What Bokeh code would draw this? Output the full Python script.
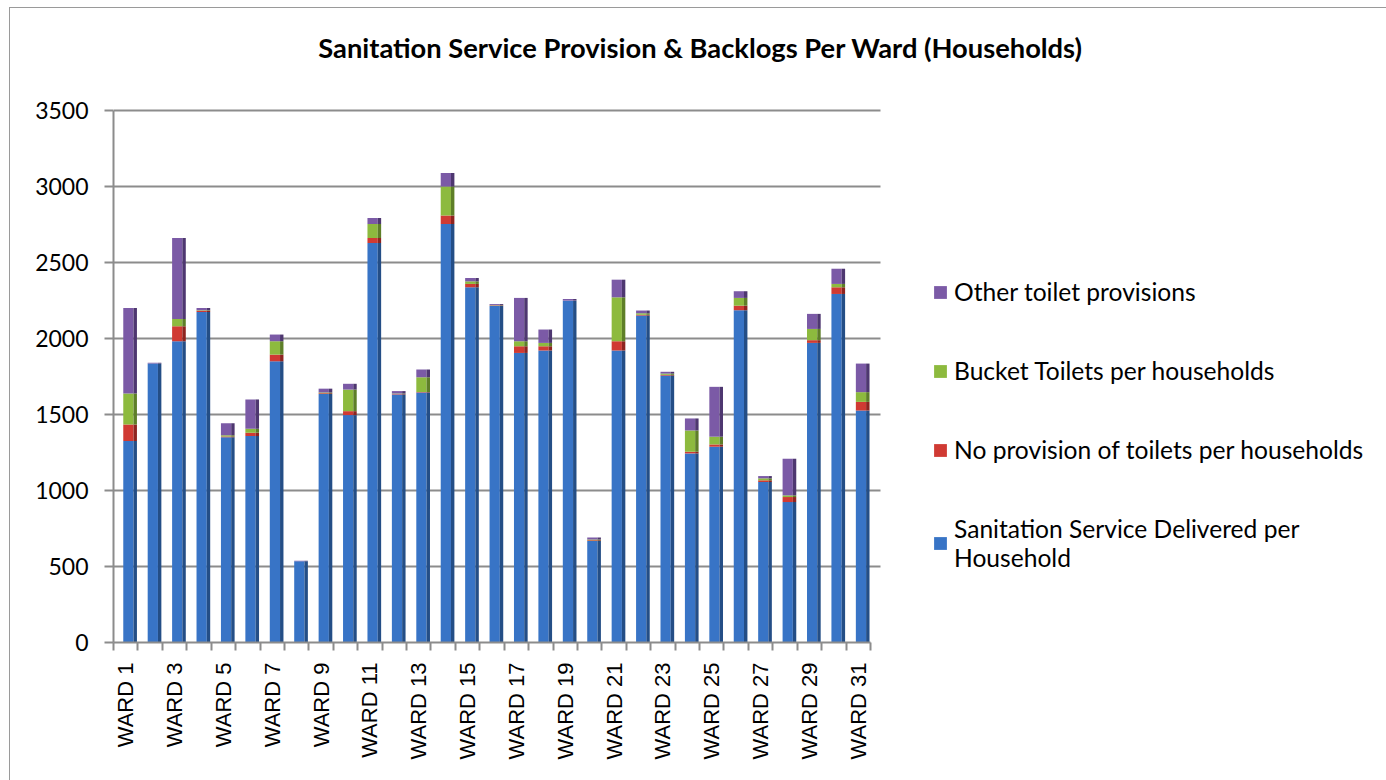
from bokeh.plotting import figure
from bokeh.models import ColumnDataSource, FixedTicker, Legend, LegendItem, Label
from bokeh.transform import dodge
from bokeh.embed import file_html
from bokeh.resources import INLINE

wards = [f"WARD {i}" for i in range(1, 32)]
delivered = [1325, 1835, 1982, 2175, 1350, 1358, 1850, 535, 1635, 1496, 2628,
             1632, 1645, 2753, 2337, 2216, 1905, 1921, 2249, 668, 1921, 2151,
             1756, 1244, 1288, 2186, 1056, 924, 1971, 2293, 1526]
no_provision = [109, 0, 99, 8, 5, 22, 44, 0, 5, 26, 33, 3, 3, 57, 22, 3, 44,
                28, 0, 5, 61, 5, 5, 11, 15, 30, 11, 33, 18, 44, 57]
bucket = [204, 0, 48, 3, 8, 26, 88, 0, 5, 142, 92, 3, 97, 190, 17, 2, 33, 22,
          0, 5, 289, 10, 8, 140, 51, 51, 13, 11, 74, 22, 64]
other = [563, 5, 532, 15, 80, 193, 44, 3, 25, 38, 39, 16, 51, 88, 22, 6, 285,
         88, 11, 12, 116, 18, 12, 79, 328, 44, 15, 241, 99, 100, 188]
y_ticks = [0, 500, 1000, 1500, 2000, 2500, 3000, 3500]

series = ["delivered", "no_provision", "bucket", "other"]
series_names = ["Sanitation Service Delivered per\nHousehold",
                "No provision of toilets per households",
                "Bucket Toilets per households",
                "Other toilet provisions"]
title_text = "Sanitation Service Provision & Backlogs Per Ward (Households)"
front_colors = ["#3874C6", "#D03A33", "#8DBA3E", "#7B5AA6"]
side_colors = ["#244E86", "#8E2420", "#5E7F28", "#4E3770"]

n = len(wards)
pos = list(range(1, n + 1))
source = ColumnDataSource(dict(x=pos, delivered=delivered, no_provision=no_provision,
                               bucket=bucket, other=other))

# plot area: categories occupy 757 px, value axis 0..3500 occupies 532 px;
# the frame is extended to the right and top to hold the legend and title
unit_x = 757 / n
unit_y = 532 / y_ticks[-1]
x_end = 0.5 + (1386 - 113) / unit_x
y_end = 642 / unit_y

p = figure(width=1386, height=780, x_range=(0.5, x_end), y_range=(0, y_end),
           output_backend="svg", toolbar_location=None,
           min_border_left=113, min_border_right=0, min_border_top=0,
           min_border_bottom=138)
p.title.visible = False
p.outline_line_color = None
p.background_fill_color = None
p.border_fill_color = None
p.styles = {"box-shadow": "inset 9px 7px 0 0 white, inset 10px 8px 0 0 #9a9a9a"}

p.xgrid.grid_line_color = None
p.ygrid.grid_line_color = "#8c8c8c"
p.ygrid.grid_line_width = 2
g = p.ygrid[0]
if "cross_bounds" in g.properties():
    g.cross_bounds = (0.5, n + 0.9)

# y axis
p.yaxis.ticker = FixedTicker(ticks=y_ticks)
p.yaxis.bounds = (0, y_ticks[-1])
p.yaxis.minor_tick_line_color = None
p.yaxis.major_tick_out = 9
p.yaxis.major_tick_in = 0
p.yaxis.axis_line_color = "#8c8c8c"
p.yaxis.axis_line_width = 2
p.yaxis.major_tick_line_color = "#8c8c8c"
p.yaxis.major_tick_line_width = 2
p.yaxis.major_label_text_font = "Lato"
p.yaxis.major_label_text_font_size = "23px"
p.yaxis.major_label_text_color = "black"
p.yaxis.major_label_standoff = 16

# x axis
p.xaxis.ticker = FixedTicker(ticks=pos[::2], minor_ticks=[i + 0.5 for i in range(0, n + 1)])
p.xaxis.bounds = (0.5, n + 0.5)
p.xaxis.major_label_overrides = {i: w for i, w in zip(pos, wards)}
p.xaxis.major_tick_out = 0
p.xaxis.major_tick_in = 0
p.xaxis.minor_tick_out = 8
p.xaxis.minor_tick_in = 0
p.xaxis.minor_tick_line_color = "#8c8c8c"
p.xaxis.minor_tick_line_width = 2
p.xaxis.axis_line_color = "#8c8c8c"
p.xaxis.axis_line_width = 2
p.xaxis.major_label_orientation = 3.14159265 / 2
p.xaxis.major_label_text_font = "Liberation Sans"
p.xaxis.major_label_text_font_size = "22px"
p.xaxis.major_label_text_color = "black"
p.xaxis.major_label_standoff = 12

front = p.vbar_stack(series, x=dodge("x", 0.11), width=0.42, source=source,
                     color=front_colors, line_width=0)
side = p.vbar_stack(series, x=dodge("x", 0.39), width=0.14, source=source,
                    color=side_colors, line_width=0)

items = [LegendItem(label=series_names[i], renderers=[front[i]]) for i in range(3, -1, -1)]
legend = Legend(items=items, location=(819, 70), spacing=50,
                label_text_font="Lato", label_text_font_size="24.6px", label_text_color="black",
                glyph_width=16, glyph_height=16, label_standoff=6,
                border_line_color=None, background_fill_alpha=0, padding=0, margin=0)
p.add_layout(legend, "center")

title = Label(x=587, y=595, x_units="screen", y_units="screen", text=title_text,
              text_font="Lato", text_font_style="bold", text_font_size="27.3px",
              text_align="center", text_baseline="middle", text_color="black")
p.add_layout(title)

open("out.html", "w").write(file_html(p, INLINE))
